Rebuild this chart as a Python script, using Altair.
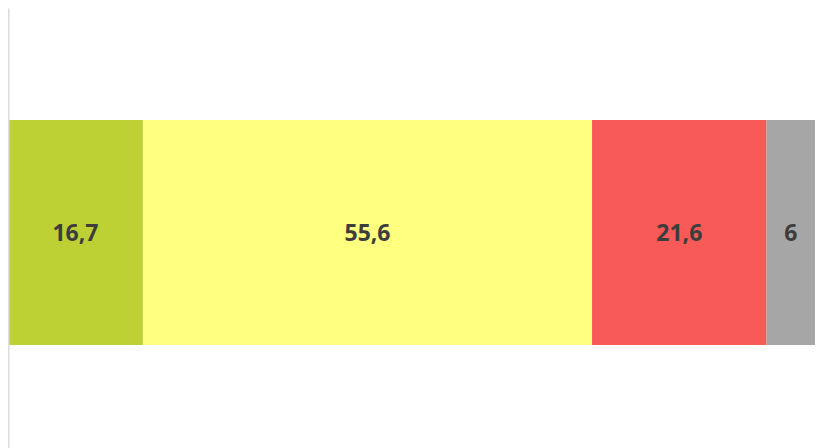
import altair as alt
import pandas as pd

categories = ["A", "B", "C", "D"]
values = [16.7, 55.6, 21.6, 6]
labels = ["16,7", "55,6", "21,6", "6"]
colors = ["#bdd134", "#ffff80", "#f75a57", "#a6a6a6"]

df = pd.DataFrame({"cat": categories, "value": values, "label": labels,
                   "order": list(range(len(categories))), "row": ["r"] * 4})

x_enc = alt.X("value:Q", stack="zero", axis=None,
              scale=alt.Scale(domain=[0, sum(values)], nice=False, zero=True))
y_enc = alt.Y("row:N", axis=alt.Axis(title=None, labels=False, ticks=False, zindex=1,
                                     domainColor="#dddddd", domainWidth=2, grid=False),
              scale=alt.Scale(paddingInner=0, paddingOuter=0.478, align=0.521))

bars = alt.Chart(df).mark_bar(stroke=None).encode(
    x=x_enc,
    y=y_enc,
    color=alt.Color("cat:N", scale=alt.Scale(domain=categories, range=colors), legend=None),
    order=alt.Order("order:Q"),
)

text = alt.Chart(df).mark_text(font="Open Sans", fontWeight="bold", fontSize=23,
                               color="#3d3d3d", dy=1).encode(
    x=alt.X("mid:Q", scale=alt.Scale(domain=[0, sum(values)], nice=False), axis=None),
    y=alt.Y("row:N"),
    text="label:N",
).transform_window(
    cum="sum(value)", sort=[alt.SortField("order")], frame=[None, 0]
).transform_calculate(mid="datum.cum - datum.value / 2")

chart = (bars + text).properties(
    width=807, height=440, padding=0,
    autosize=alt.AutoSizeParams(type="none"),
).configure_view(stroke=None)

chart.save("out.html", embed_options={"renderer": "svg", "actions": False})
